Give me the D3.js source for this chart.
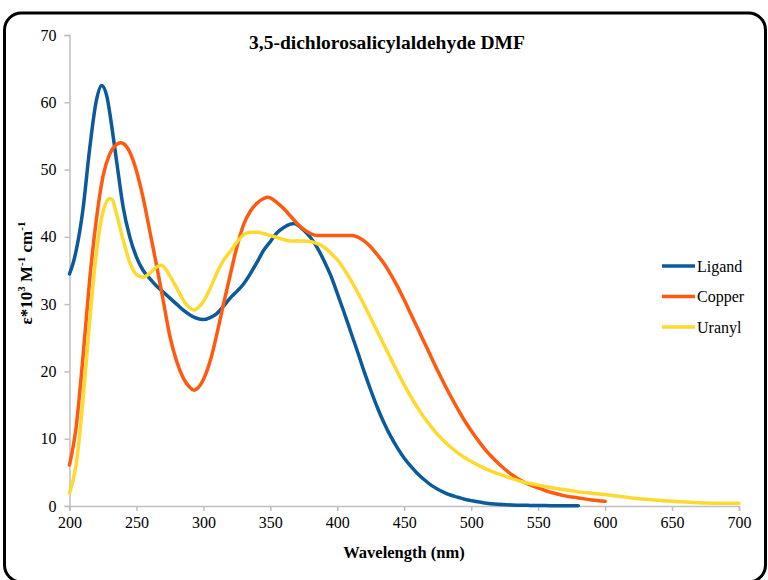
<!DOCTYPE html>
<html>
<head>
<meta charset="utf-8">
<script src="https://cdn.jsdelivr.net/npm/d3@7/dist/d3.min.js"></script>
<style>
  html, body { margin: 0; padding: 0; background: #fff; }
  svg { display: block; }
  text { font-family: "Liberation Serif", "Times New Roman", serif; fill: #000; }
</style>
</head>
<body>
<svg id="chart" width="768" height="580"></svg>
<script>
// Absorption spectra in DMF (ε × 10³ M⁻¹ cm⁻¹ vs wavelength in nm)
const title = "3,5-dichlorosalicylaldehyde DMF";
const seriesNames = ["Ligand", "Copper", "Uranyl"];
const xTicks = [200, 250, 300, 350, 400, 450, 500, 550, 600, 650, 700];
const yTicks = [0, 10, 20, 30, 40, 50, 60, 70];

const ligandNm = [200,203,205,210,215,220,224,228,230,235,240,245,250,255,260,265,270,275,280,285,290,295,300,305,310,315,320,325,330,335,340,345,350,355,360,365,368,370,375,380,385,390,395,400,405,410,415,420,425,430,435,440,445,450,455,460,465,470,475,480,485,490,495,500,510,520,530,540,550,560,570,580];
const ligandEps = [34.5,36.3,38.0,44.0,53.0,60.2,62.5,60.8,58.5,51.5,44.5,40.0,37.0,35.0,33.8,32.7,31.8,30.9,30.0,29.1,28.4,27.9,27.7,28.0,28.6,29.7,30.9,31.9,33.0,34.5,36.2,38.0,39.3,40.6,41.4,41.9,42.0,41.8,41.0,39.9,38.4,36.5,34.3,31.6,28.8,25.9,23.0,20.0,17.2,14.6,12.3,10.3,8.6,7.1,5.9,4.8,3.9,3.1,2.5,2.0,1.6,1.3,1.0,0.8,0.45,0.25,0.15,0.1,0.08,0.05,0.03,0.02];

const copperNm = [200,205,210,215,220,225,230,235,238,240,245,250,255,260,265,270,275,280,285,290,293,295,300,305,310,315,320,325,330,335,340,345,348,350,355,360,365,370,375,380,385,390,400,410,415,420,425,430,435,440,445,450,455,460,465,470,475,480,485,490,495,500,505,510,515,520,525,530,540,550,560,570,580,590,600];
const copperEps = [6.1,11.8,22.0,33.5,42.5,49.0,52.3,53.7,54.0,53.9,52.6,49.8,45.8,40.8,35.8,30.5,25.2,21.5,19.0,17.6,17.2,17.4,18.8,21.5,25.5,30.0,34.3,38.5,41.8,43.8,45.0,45.7,45.9,45.8,45.1,44.2,43.1,42.0,41.1,40.5,40.2,40.2,40.2,40.2,40.0,39.4,38.5,37.3,36.0,34.4,32.6,30.6,28.5,26.4,24.3,22.2,20.1,18.1,16.2,14.4,12.7,11.2,9.8,8.5,7.4,6.4,5.5,4.7,3.5,2.7,2.0,1.5,1.2,0.9,0.7];

const uranylNm = [200,205,210,215,220,225,230,232,235,240,245,250,255,260,265,268,270,275,280,285,290,293,295,300,305,310,315,320,325,330,335,340,345,350,355,360,365,370,375,380,385,390,395,400,405,410,415,420,425,430,435,440,445,450,455,460,465,470,475,480,485,490,495,500,505,510,520,530,540,550,560,570,580,590,600,610,620,630,640,650,660,670,680,690,700];
const uranylEps = [1.9,6.2,15.5,27.2,37.5,43.7,45.7,45.5,43.5,39.6,36.2,34.4,34.0,34.6,35.5,35.8,35.6,34.2,32.4,30.6,29.4,29.1,29.3,30.4,32.3,34.6,36.5,37.8,39.2,40.3,40.7,40.7,40.5,40.2,39.9,39.6,39.4,39.4,39.4,39.3,39.0,38.5,37.6,36.6,35.2,33.6,31.8,29.9,27.9,25.9,23.9,21.9,19.9,18.0,16.2,14.6,13.1,11.8,10.6,9.6,8.7,7.9,7.2,6.6,6.1,5.6,4.8,4.1,3.5,3.1,2.7,2.4,2.1,1.9,1.7,1.45,1.2,1.0,0.85,0.7,0.58,0.48,0.42,0.4,0.4];

const colors = ["#0b5a9c", "#ff5a0f", "#ffd92f"];

const series = [
  { name: seriesNames[0], nm: ligandNm, eps: ligandEps, color: colors[0] },
  { name: seriesNames[1], nm: copperNm, eps: copperEps, color: colors[1] },
  { name: seriesNames[2], nm: uranylNm, eps: uranylEps, color: colors[2] }
];

const svg = d3.select("#chart");

// outer rounded frame
svg.append("rect")
  .attr("x", 4.5).attr("y", 13)
  .attr("width", 761).attr("height", 569)
  .attr("rx", 17).attr("ry", 17)
  .attr("fill", "#fff")
  .attr("stroke", "#000").attr("stroke-width", 3);

const plot = { left: 69.5, right: 739, top: 35, bottom: 506 };

const x = d3.scaleLinear().domain([200, 700]).range([plot.left, plot.right]);
const y = d3.scaleLinear().domain([0, 70]).range([plot.bottom, plot.top]);

// axes
const xAxis = svg.append("g")
  .attr("transform", `translate(0,${plot.bottom})`)
  .call(d3.axisBottom(x).tickValues(xTicks).tickSize(5).tickPadding(6).tickFormat(d3.format("d")));
const yAxis = svg.append("g")
  .attr("transform", `translate(${plot.left},0)`)
  .call(d3.axisLeft(y).tickValues(yTicks).tickSize(5).tickPadding(8).tickFormat(d3.format("d")));

[xAxis, yAxis].forEach(g => {
  g.select(".domain").attr("stroke", "#bfbfbf").attr("stroke-width", 1.5);
  g.selectAll(".tick line").attr("stroke", "#bfbfbf").attr("stroke-width", 1.5);
  g.selectAll(".tick text")
    .attr("font-family", "'Liberation Serif', serif")
    .attr("font-size", 16)
    .attr("fill", "#000");
});

// spectra
const line = d3.line()
  .x(d => x(d[0]))
  .y(d => y(d[1]))
  .curve(d3.curveMonotoneX);

svg.append("g").selectAll("path")
  .data(series)
  .join("path")
  .attr("d", s => line(d3.zip(s.nm, s.eps)))
  .attr("fill", "none")
  .attr("stroke", s => s.color)
  .attr("stroke-width", 3.5)
  .attr("stroke-linejoin", "round")
  .attr("stroke-linecap", "round");

// title
svg.append("text")
  .attr("x", 387).attr("y", 49)
  .attr("text-anchor", "middle")
  .attr("font-weight", "bold")
  .attr("font-size", 19.5)
  .text(title);

// axis titles
svg.append("text")
  .attr("x", 404).attr("y", 558)
  .attr("text-anchor", "middle")
  .attr("font-weight", "bold")
  .attr("font-size", 16.5)
  .text("Wavelength (nm)");

const yTitle = svg.append("text")
  .attr("transform", "translate(32,273) rotate(-90)")
  .attr("text-anchor", "middle")
  .attr("font-weight", "bold")
  .attr("font-size", 17);
yTitle.append("tspan").text("ε*10");
yTitle.append("tspan").attr("dy", -7).attr("font-size", 11).text("3");
yTitle.append("tspan").attr("dy", 7).text(" M");
yTitle.append("tspan").attr("dy", -7).attr("font-size", 11).text("-1");
yTitle.append("tspan").attr("dy", 7).text(" cm");
yTitle.append("tspan").attr("dy", -7).attr("font-size", 11).text("-1");

// legend
const legend = svg.append("g").selectAll("g")
  .data(series)
  .join("g")
  .attr("transform", (s, i) => `translate(662,${266 + i * 30.5})`);
legend.append("line")
  .attr("x1", 0).attr("x2", 33)
  .attr("stroke", s => s.color)
  .attr("stroke-width", 3.5);
legend.append("text")
  .attr("x", 35).attr("y", 5.5)
  .attr("font-size", 16)
  .text(s => s.name);
</script>
</body>
</html>
